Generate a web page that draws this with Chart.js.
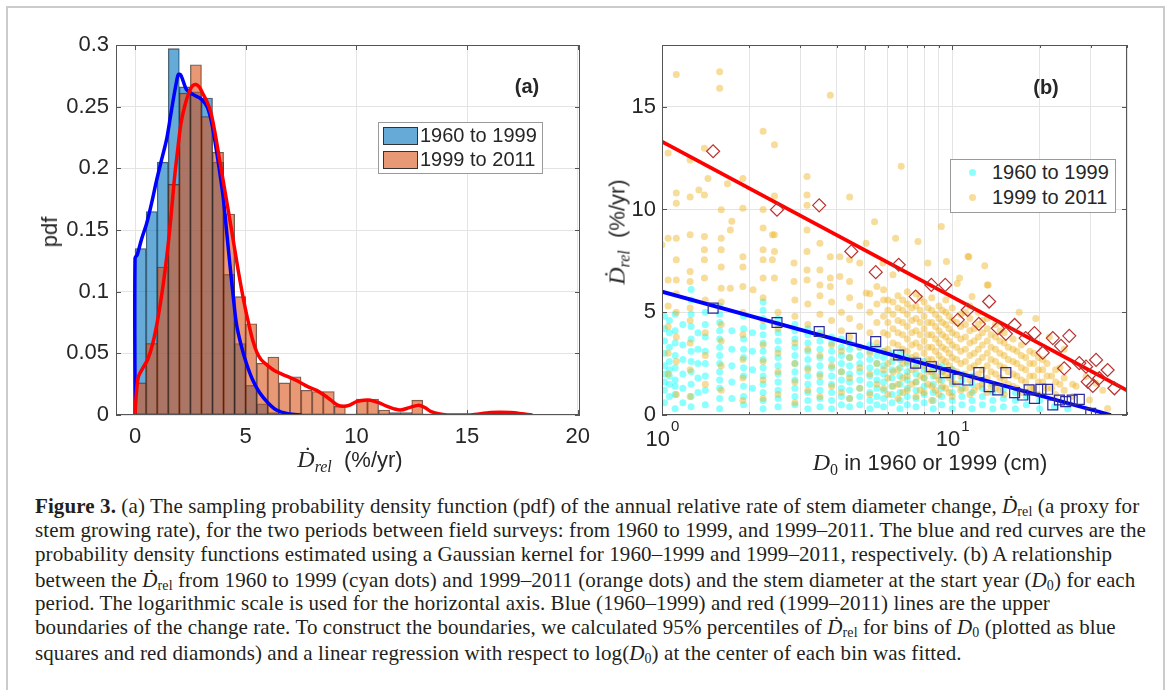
<!DOCTYPE html>
<html lang="en">
<head>
<meta charset="UTF-8">
<title>Figure 3</title>
<script src="https://cdn.jsdelivr.net/npm/chart.js"></script>
<style>
  body { margin: 0; background: #fff; width: 1170px; height: 690px; position: relative; overflow: hidden;
         font-family: "Liberation Sans", Arial, sans-serif; color: #262626; }
  .frame { position: absolute; left: 6px; top: 6px; width: 1155px; height: 720px; border: 2px solid #cbcbcb; }
  canvas { position: absolute; top: 0; }
  #chartA { left: 0; }
  #chartB { left: 600px; }
  .ax { position: absolute; white-space: nowrap; transform: translate(-50%, -50%); font-size: 22px; }
  .rot { transform: translate(-50%, -50%) rotate(-90deg); }
  .m { font-family: "Liberation Serif", "DejaVu Serif", serif; font-style: italic; font-size: 24px; }
  .m sub { font-size: 16px; vertical-align: -5px; line-height: 0; }
  .m sub.up { font-style: normal; }
  .tag { position: absolute; font-weight: bold; font-size: 20px; transform: translate(-50%, -50%); }
  .legend { position: absolute; background: #fff; border: 1px solid #9a9a9a; font-size: 20px; }
  .legend div { position: absolute; white-space: nowrap; }
  .patch { width: 33px; height: 16px; border: 1px solid #333; }
  .dot { width: 7px; height: 7px; border-radius: 50%; }
  .cap { position: absolute; left: 35px; white-space: nowrap; font-family: "Liberation Serif", "Times New Roman", serif;
         font-size: 21px; letter-spacing: 0.1px; line-height: 24px; color: #231f20; }
  .cap sub { font-size: 14px; vertical-align: -3px; line-height: 0; }
</style>
</head>
<body>
<div class="frame"></div>

<canvas id="chartA" width="600" height="480" style="width:600px;height:480px"></canvas>
<canvas id="chartB" width="570" height="480" style="width:570px;height:480px"></canvas>

<!-- panel labels and axis titles -->
<div class="tag" style="left:527px;top:86px">(a)</div>
<div class="tag" style="left:1046px;top:87px">(b)</div>
<div class="ax rot" style="left:50px;top:232px">pdf</div>
<div class="ax" style="left:350px;top:459px"><span class="m">Ḋ<sub>rel</sub></span>&nbsp; (%/yr)</div>
<div class="ax rot" style="left:617px;top:232px"><span class="m">Ḋ<sub>rel</sub></span>&nbsp; (%/yr)</div>
<div class="ax" style="left:930px;top:462px"><span class="m">D<sub class="up">0</sub></span>&nbsp;in 1960 or 1999 (cm)</div>

<!-- legends -->
<div class="legend" style="left:378px;top:122px;width:163px;height:50px">
  <div class="patch" style="left:4px;top:4px;background:rgba(0,114,189,0.6)"></div>
  <div style="left:41px;top:1px">1960 to 1999</div>
  <div class="patch" style="left:4px;top:28px;background:rgba(217,83,25,0.6)"></div>
  <div style="left:41px;top:25px">1999 to 2011</div>
</div>
<div class="legend" style="left:950px;top:159px;width:164px;height:52px">
  <div class="dot" style="left:18px;top:9px;background:rgba(0,255,255,0.45)"></div>
  <div style="left:41px;top:1px">1960 to 1999</div>
  <div class="dot" style="left:18px;top:34px;background:rgba(237,177,32,0.45)"></div>
  <div style="left:41px;top:26px">1999 to 2011</div>
</div>

<!-- caption -->
<div class="cap" style="top:494px"><b>Figure 3.</b> (a) The sampling probability density function (pdf) of the annual relative rate of stem diameter change, <i>Ḋ</i><sub>rel</sub> (a proxy for</div>
<div class="cap" style="top:518px">stem growing rate), for the two periods between field surveys: from 1960 to 1999, and 1999–2011. The blue and red curves are the</div>
<div class="cap" style="top:542px">probability density functions estimated using a Gaussian kernel for 1960–1999 and 1999–2011, respectively. (b) A relationship</div>
<div class="cap" style="top:568px">between the <i>Ḋ</i><sub>rel</sub> from 1960 to 1999 (cyan dots) and 1999–2011 (orange dots) and the stem diameter at the start year (<i>D</i><sub>0</sub>) for each</div>
<div class="cap" style="top:591px">period. The logarithmic scale is used for the horizontal axis. Blue (1960–1999) and red (1999–2011) lines are the upper</div>
<div class="cap" style="top:615px">boundaries of the change rate. To construct the boundaries, we calculated 95% percentiles of <i>Ḋ</i><sub>rel</sub> for bins of <i>D</i><sub>0</sub> (plotted as blue</div>
<div class="cap" style="top:641px">squares and red diamonds) and a linear regression with respect to log(<i>D</i><sub>0</sub>) at the center of each bin was fitted.</div>

<script>
  // ---- panel (a): histogram data, bins of 0.5 starting at 0 ----
  const binWidth = 0.5;
  const pdf1960 = [0.135, 0.165, 0.205, 0.297, 0.266, 0.262, 0.257, 0.205, 0.114, 0.058, 0.024, 0.009, 0.002, 0.001];
  const pdf1999 = [0.026, 0.058, 0.12, 0.187, 0.261, 0.284, 0.242, 0.213, 0.163, 0.096, 0.074, 0.042, 0.047, 0.026,
                   0.031, 0.020, 0.019, 0.019, 0.007, 0.001, 0.013, 0.013, 0.004, 0.002, 0.002, 0.012, 0.001];

  // kernel density curves [x, pdf]
  const kde1960 = [[0, 0], [0, 0.127], [0.1, 0.13], [0.3, 0.143], [0.52, 0.155], [0.75, 0.172], [0.97, 0.19],
    [1.2, 0.207], [1.42, 0.223], [1.6, 0.242], [1.72, 0.255], [1.85, 0.268], [1.95, 0.276], [2.05, 0.276],
    [2.15, 0.272], [2.32, 0.264], [2.6, 0.26], [2.93, 0.257], [3.15, 0.253], [3.3, 0.248], [3.45, 0.238],
    [3.6, 0.223], [3.8, 0.2], [3.98, 0.177], [4.13, 0.15], [4.28, 0.123], [4.43, 0.097], [4.58, 0.074],
    [4.8, 0.056], [5.03, 0.042], [5.3, 0.029], [5.63, 0.018], [6.0, 0.01], [6.39, 0.004], [6.9, 0.001], [7.52, 0]];
  const kde1999 = [[0, 0], [0.05, 0.015], [0.15, 0.031], [0.35, 0.038], [0.57, 0.045], [0.8, 0.058], [1.02, 0.077],
    [1.25, 0.103], [1.47, 0.134], [1.62, 0.16], [1.77, 0.19], [1.92, 0.214], [2.07, 0.236], [2.25, 0.251],
    [2.45, 0.262], [2.6, 0.267], [2.75, 0.268], [2.9, 0.266], [3.05, 0.261], [3.25, 0.254], [3.43, 0.245],
    [3.6, 0.23], [3.8, 0.209], [4.0, 0.188], [4.18, 0.169], [4.37, 0.149], [4.56, 0.128], [4.75, 0.108],
    [4.94, 0.09], [5.12, 0.075], [5.31, 0.061], [5.5, 0.051], [5.69, 0.045], [6.0, 0.04], [6.29, 0.036],
    [6.65, 0.033], [7.04, 0.03], [7.4, 0.027], [7.8, 0.023], [8.2, 0.02], [8.55, 0.016], [8.85, 0.012],
    [9.15, 0.008], [9.43, 0.007], [9.7, 0.008], [10.03, 0.011], [10.35, 0.012], [10.63, 0.012], [11.0, 0.01],
    [11.39, 0.007], [11.7, 0.005], [11.99, 0.004], [12.4, 0.006], [12.82, 0.008], [13.1, 0.006], [13.35, 0.003],
    [13.7, 0.001], [14.1, 0], [15.16, 0], [16.06, 0.002], [16.97, 0.002], [17.5, 0.001], [17.95, 0]];

  const xTicksA = [0, 5, 10, 15, 20];
  const yTicksA = [0, 0.05, 0.1, 0.15, 0.2, 0.25, 0.3];
  const yLabelsA = ['0', '0.05', '0.1', '0.15', '0.2', '0.25', '0.3'];

  // ---- panel (b): scatter data ----
  // columns of points: [D0, [rates...]]
  const cyanCols = [
    [1.02, [0.6, 1.2, 1.6, 2.0, 2.4, 3.0, 3.6, 4.2, 4.8]],
    [1.06, [0.9, 1.5, 1.9, 2.2, 2.6, 3.3, 4.0, 4.6]],
    [1.11, [0.3, 1.0, 1.4, 1.7, 2.3, 2.9, 3.5, 4.1, 4.9]],
    [1.18, [0.6, 1.3, 2.0, 2.7, 3.4, 4.4]],
    [1.26, [0.4, 0.9, 1.5, 2.1, 2.6, 3.1, 3.7, 4.3, 4.9, 5.6, 6.1]],
    [1.33, [1.1, 1.8, 2.5, 3.2, 4.0]],
    [1.41, [0.5, 1.2, 1.9, 2.5, 3.1, 3.8, 4.4, 5.0]],
    [1.58, [0.3, 0.8, 1.3, 1.7, 2.1, 2.5, 2.9, 3.3, 3.7, 4.1, 4.5, 4.9, 5.3]],
    [1.74, [0.8, 1.6, 2.4, 3.2, 4.1]],
    [1.91, [0.5, 0.9, 1.4, 1.9, 2.3, 2.8, 3.2, 3.7, 4.2, 4.8]],
    [2.05, [1.3, 2.2, 3.1, 4.0]],
    [2.23, [0.3, 0.7, 1.1, 1.5, 1.9, 2.3, 2.7, 3.1, 3.5, 3.9, 4.3, 4.7, 5.1, 5.5]],
    [2.51, [0.4, 0.8, 1.2, 1.6, 2.0, 2.4, 2.8, 3.2, 3.6, 4.0, 4.4, 4.7]],
    [2.87, [0.5, 0.9, 1.3, 1.7, 2.1, 2.5, 2.9, 3.3, 3.7, 4.1, 4.4]],
    [3.18, [0.3, 0.7, 1.1, 1.5, 1.9, 2.3, 2.7, 3.1, 3.5, 3.9, 4.2]],
    [3.5, [0.4, 0.8, 1.2, 1.6, 2.0, 2.4, 2.8, 3.2, 3.6, 4.0]],
    [3.84, [0.3, 0.7, 1.1, 1.5, 1.9, 2.3, 2.7, 3.1, 3.5, 3.8]],
    [4.15, [0.5, 0.9, 1.3, 1.7, 2.1, 2.5, 2.9, 3.3, 3.7]],
    [4.43, [0.4, 0.8, 1.2, 1.6, 2.0, 2.4, 2.8, 3.2, 3.5]],
    [4.8, [0.5, 0.9, 1.3, 1.7, 2.1, 2.5, 2.9, 3.3]],
    [5.2, [0.3, 0.7, 1.1, 1.5, 1.9, 2.3, 2.7, 3.1, 3.4]],
    [5.5, [0.5, 0.9, 1.3, 1.7, 2.1, 2.5, 2.9, 3.3]],
    [5.8, [0.4, 0.8, 1.2, 1.6, 2.0, 2.4, 2.8, 3.1]],
    [6.2, [0.6, 1.0, 1.4, 1.8, 2.2, 2.6, 3.0]],
    [6.6, [0.3, 0.7, 1.1, 1.5, 1.9, 2.3, 2.7, 3.0]],
    [7.0, [0.5, 0.9, 1.3, 1.7, 2.1, 2.5, 2.8]],
    [7.5, [0.4, 0.8, 1.2, 1.6, 2.0, 2.4, 2.7]],
    [8.0, [0.6, 1.0, 1.4, 1.8, 2.2, 2.6]],
    [8.6, [0.3, 0.7, 1.1, 1.5, 1.9, 2.3]],
    [9.2, [0.5, 0.9, 1.3, 1.7, 2.1, 2.4]],
    [10.0, [0.3, 0.7, 1.1, 1.5, 1.9, 2.2]],
    [10.8, [0.5, 0.9, 1.3, 1.7, 2.0]],
    [11.7, [0.3, 0.7, 1.1, 1.5, 1.9]],
    [12.7, [0.5, 0.9, 1.3, 1.7]],
    [13.8, [0.3, 0.7, 1.1, 1.5]],
    [15.0, [0.4, 0.8, 1.2]],
    [16.5, [0.3, 0.7, 1.1]],
    [18.0, [0.5, 0.9]],
    [20.0, [0.3, 0.7]],
    [22.5, [0.4]],
    [25.0, [0.3]]
  ];
  const orangeCols = [
    [1.05, [2.0, 3.0, 4.3, 5.3]], [1.12, [1.0, 2.6, 3.8, 5.0, 5.9]], [1.25, [0.9, 2.2, 3.5, 4.6, 5.2]],
    [1.41, [1.5, 2.9, 4.0, 5.6]], [1.6, [1.2, 2.4, 3.6, 4.4, 5.5]], [1.9, [0.7, 1.8, 2.7, 3.9, 5.0]],
    [2.23, [0.8, 1.7, 2.6, 3.4, 4.6, 5.7]], [2.51, [1.0, 2.1, 3.0, 4.2, 5.0]], [2.87, [0.6, 1.6, 2.5, 3.5, 4.8, 5.6]],
    [3.18, [1.2, 2.2, 3.2, 4.4, 5.4]], [3.5, [0.9, 1.9, 2.9, 3.9, 4.9, 5.8]], [3.84, [1.4, 2.4, 3.4, 4.6, 5.5]],
    [4.15, [1.1, 2.1, 3.1, 4.1, 5.0]], [4.43, [0.8, 1.8, 2.8, 3.8, 4.7, 5.7]], [4.8, [1.3, 2.3, 3.3, 4.3, 5.3]],
    [5.2, [1.0, 2.0, 3.0, 4.0, 5.0, 5.9]], [5.5, [1.5, 2.5, 3.5, 4.5, 5.4]], [5.8, [1.3, 2.2, 3.1, 4.0, 4.8, 5.6]],
    [6.0, [1.0, 1.8, 2.5, 3.2, 3.9, 4.5, 5.1, 5.6]], [6.25, [1.4, 2.1, 2.8, 3.5, 4.2, 4.9, 5.5]],
    [6.5, [0.8, 1.5, 2.2, 2.8, 3.4, 4.0, 4.6, 5.2, 5.8]], [6.75, [1.1, 1.8, 2.5, 3.2, 3.9, 4.5, 5.1, 5.6]],
    [7.0, [1.2, 1.9, 2.6, 3.1, 3.7, 4.3, 4.9, 5.4, 6.0]], [7.25, [1.5, 2.2, 2.8, 3.4, 4.0, 4.6, 5.2]],
    [7.5, [0.9, 1.6, 2.3, 2.9, 3.5, 4.1, 4.7, 5.3, 5.9]], [7.75, [1.2, 1.9, 2.6, 3.3, 3.9, 4.5, 5.1, 5.7]],
    [8.0, [1.1, 1.8, 2.4, 3.0, 3.6, 4.2, 4.8, 5.5]], [8.25, [1.5, 2.1, 2.7, 3.3, 3.9, 4.5, 5.2]],
    [8.5, [0.7, 1.4, 2.1, 2.7, 3.3, 3.9, 4.5, 5.1, 5.7]], [8.75, [1.2, 1.9, 2.5, 3.1, 3.7, 4.3, 4.9]],
    [9.0, [1.0, 1.7, 2.3, 2.9, 3.5, 4.1, 4.7, 5.3]], [9.25, [1.4, 2.1, 2.7, 3.3, 3.9, 4.5, 5.1]],
    [9.5, [1.3, 2.0, 2.6, 3.2, 3.8, 4.4, 5.0, 5.6]], [9.75, [1.1, 1.8, 2.4, 3.0, 3.6, 4.2, 4.8]],
    [10.0, [0.9, 1.6, 2.2, 2.8, 3.4, 4.0, 4.6, 5.2]], [10.35, [1.5, 2.1, 2.7, 3.3, 3.9, 4.5]],
    [10.7, [1.2, 1.9, 2.5, 3.1, 3.7, 4.3, 4.9]], [11.1, [1.3, 2.0, 2.6, 3.2, 3.8, 4.4, 5.0]],
    [11.5, [1.0, 1.7, 2.3, 2.9, 3.5, 4.1, 4.7, 5.3]], [11.9, [1.2, 1.8, 2.4, 3.0, 3.6, 4.2]],
    [12.3, [1.4, 2.0, 2.6, 3.2, 3.8, 4.4, 5.0]], [12.7, [1.5, 2.2, 2.8, 3.4, 4.0, 4.6]],
    [13.2, [1.1, 1.8, 2.4, 3.0, 3.6, 4.2, 4.7]], [13.6, [1.4, 2.1, 2.7, 3.3, 3.9]],
    [14.1, [1.3, 2.0, 2.6, 3.2, 3.8, 4.4]], [14.6, [1.2, 1.8, 2.4, 3.0, 3.6, 4.1]],
    [15.1, [1.0, 1.7, 2.3, 2.9, 3.5, 4.0]], [15.6, [1.5, 2.1, 2.7, 3.3]], [16.2, [1.4, 2.0, 2.6, 3.2, 3.7]],
    [16.7, [1.3, 1.9, 2.5, 3.1]], [17.3, [1.1, 1.7, 2.3, 2.9, 3.4]], [17.9, [1.6, 2.2, 2.8]],
    [18.5, [1.3, 1.9, 2.5, 3.1]], [19.1, [1.3, 1.9, 2.5, 3.0]], [19.8, [1.0, 1.6, 2.2, 2.8]],
    [20.5, [1.6, 2.2, 2.7]], [21.2, [1.3, 1.9, 2.5]], [22.0, [1.3, 1.9]], [22.7, [1.0, 1.6, 2.2]],
    [23.5, [1.5, 2.3]], [24.3, [1.2, 1.8]], [26.0, [0.9, 1.5]]
  ];
  // scattered single orange points [D0, rate]
  const orangeLoose = [[1.12, 16.56], [1.58, 16.7], [1.58, 15.9], [3.8, 15.55], [2.23, 13.8], [2.44, 13.15],
    [1.05, 12.74], [1.4, 12.98], [1.25, 12.4], [1.44, 11.5], [1.9, 11.5], [3.16, 11.6], [1.68, 11.25],
    [1.12, 10.8], [1.12, 10.3], [1.25, 10.6], [1.4, 10.7], [1.34, 10.95], [1.9, 10.06], [1.6, 9.98],
    [2.23, 10.0], [2.44, 10.66], [3.16, 10.7], [3.16, 10.2], [4.43, 10.6], [5.4, 9.4], [5.05, 8.36],
    [1.0, 8.28], [1.05, 8.6], [1.12, 8.6], [1.4, 8.68], [1.25, 8.77], [1.74, 9.42], [1.72, 9.0], [1.6, 8.6],
    [2.23, 9.1], [2.4, 8.77], [2.44, 8.77], [2.85, 7.4], [3.16, 9.0], [3.5, 8.36], [3.8, 7.7], [4.1, 7.7],
    [4.43, 7.55], [4.8, 7.4], [1.12, 7.55], [1.25, 6.98], [1.4, 8.04], [1.4, 7.55], [1.6, 8.04], [1.6, 7.2],
    [1.9, 7.7], [1.9, 7.2], [2.23, 8.04], [2.23, 7.55], [2.4, 7.55], [2.44, 7.95], [2.23, 6.66], [2.44, 6.66],
    [3.16, 7.95], [3.16, 7.06], [3.5, 7.06], [3.8, 6.66], [4.1, 6.74], [4.43, 6.5], [1.05, 6.57], [1.12, 6.57],
    [1.25, 6.5], [1.4, 6.66], [1.6, 6.17], [1.72, 6.17], [1.9, 6.25], [2.06, 6.09], [2.85, 6.5], [3.16, 6.57],
    [3.5, 6.33], [3.8, 6.25], [5.05, 5.93], [5.5, 6.25], [5.8, 6.09],
    [6.67, 12.1], [9.17, 9.17], [7.62, 8.44], [6.38, 8.6], [11.33, 7.71], [12.94, 7.26], [9.55, 7.47],
    [8.24, 7.39], [6.25, 6.82], [10.6, 6.66], [13.3, 6.33], [5.77, 7.39], [11.4, 7.7], [10.4, 6.4],
    [13.2, 6.33], [17, 5.0], [11.7, 5.76], [19.4, 4.7], [21.6, 3.8], [24.3, 3.2], [28.9, 1.87], [33, 1.2],
    [34.3, 0.32], [26.7, 1.4], [29.7, 0.73], [31.3, 1.54]];

  // 95% percentiles per D0 bin
  const squares1960 = [[1.5, 5.2], [2.49, 4.5], [3.48, 4.06], [4.49, 3.73], [5.45, 3.57], [6.54, 2.92], [7.48, 2.52],
    [8.47, 2.35], [9.46, 2.06], [10.45, 1.74], [11.3, 1.70], [12.35, 2.06], [13.4, 1.38], [14.35, 1.22],
    [15.3, 2.06], [16.4, 1.09], [17.5, 0.97], [18.4, 1.22], [19.2, 0.81], [20.2, 1.25], [21.3, 1.25],
    [22.2, 0.49], [23.4, 0.73], [24.6, 0.65], [25.9, 0.73], [27.4, 0.76], [30.0, 0.08]];
  const diamonds1999 = [[1.5, 12.83], [2.49, 9.99], [3.48, 10.2], [4.49, 7.96], [5.45, 6.95], [6.54, 7.31],
    [7.48, 5.76], [8.47, 6.33], [9.46, 6.33], [10.45, 4.63], [11.3, 5.11], [12.35, 4.43], [13.4, 5.52],
    [14.35, 4.22], [15.3, 3.95], [16.4, 4.38], [17.9, 3.74], [19.2, 3.98], [20.5, 3.03], [22.2, 3.74],
    [23.7, 3.36], [25.3, 3.85], [24.3, 2.27], [27.4, 2.52], [28.9, 2.35], [31.3, 2.68], [29.3, 1.62],
    [30.5, 1.41], [32.1, 1.79], [34.3, 2.19], [36.2, 1.30]];
  // fitted upper boundaries (end points)
  const line1960 = [[1, 6.0], [35.2, 0]];
  const line1999 = [[1, 13.3], [40, 1.2]];

  const xTicksB = [1, 2, 3, 4, 5, 6, 7, 8, 9, 10, 20, 30, 40];
  const xPowerTicks = [1, 10];
  const xPowers = ['0', '1'];
  const yTicksB = [0, 5, 10, 15];

  Chart.defaults.font.family = '"Liberation Sans", Arial, sans-serif';
  Chart.defaults.color = '#262626';

  const pts = arr => arr.map(p => ({ x: p[0], y: p[1] }));
  const flatCols = cols => cols.flatMap(c => c[1].map(y => ({ x: c[0], y })));

  // box around the axes with inward ticks, like MATLAB
  function framePlugin(isMajor) {
    return {
      id: 'frame',
      afterDatasetsDraw(chart) {
        const { ctx, chartArea: a, scales } = chart;
        ctx.save();
        ctx.strokeStyle = '#555';
        ctx.lineWidth = 1;
        ctx.strokeRect(a.left + 0.5, a.top + 0.5, a.right - a.left - 1, a.bottom - a.top - 1);
        ctx.beginPath();
        scales.x.ticks.forEach(t => {
          const px = Math.round(scales.x.getPixelForValue(t.value)) + 0.5;
          const len = isMajor(t.value) ? 5 : 3;
          ctx.moveTo(px, a.bottom); ctx.lineTo(px, a.bottom - len);
          ctx.moveTo(px, a.top); ctx.lineTo(px, a.top + len);
        });
        scales.y.ticks.forEach(t => {
          const py = Math.round(scales.y.getPixelForValue(t.value)) + 0.5;
          ctx.moveTo(a.left, py); ctx.lineTo(a.left + 5, py);
          ctx.moveTo(a.right, py); ctx.lineTo(a.right - 5, py);
        });
        ctx.stroke();
        ctx.restore();
      }
    };
  }

  const gridColor = '#e4e4e4';

  // Panel (a)
  new Chart(document.getElementById('chartA'), {
    type: 'bar',
    data: {
      datasets: [
        { type: 'line', data: pts(kde1999), borderColor: '#ff0000', borderWidth: 3.5, pointRadius: 0,
          tension: 0.3, order: 0 },
        { type: 'line', data: pts(kde1960), borderColor: '#0000ff', borderWidth: 3.5, pointRadius: 0,
          tension: 0.3, order: 1 },
        { label: '1999 to 2011', data: pdf1999.map((v, i) => ({ x: (i + 0.5) * binWidth, y: v })),
          backgroundColor: 'rgba(217,83,25,0.6)', borderColor: 'rgba(30,30,30,0.7)', borderWidth: 0.7,
          borderSkipped: false, order: 2 },
        { label: '1960 to 1999', data: pdf1960.map((v, i) => ({ x: (i + 0.5) * binWidth, y: v })),
          backgroundColor: 'rgba(0,114,189,0.6)', borderColor: 'rgba(30,30,30,0.7)', borderWidth: 0.7,
          borderSkipped: false, order: 3 }
      ]
    },
    options: {
      responsive: false,
      animation: false,
      events: [],
      layout: { padding: { left: 0, right: 20, top: 45, bottom: 0 } },
      datasets: { bar: { grouped: false, barPercentage: 1, categoryPercentage: 1 } },
      plugins: { legend: { display: false }, tooltip: { enabled: false } },
      scales: {
        x: {
          type: 'linear', min: -0.86, max: 20.1, offset: false,
          grid: { color: gridColor, drawTicks: false, offset: false },
          border: { display: false },
          ticks: { font: { size: 22 }, padding: 9, maxRotation: 0, autoSkip: false, callback: v => String(v) },
          afterBuildTicks: s => { s.ticks = xTicksA.map(v => ({ value: v })); },
          afterFit: s => { s.height = 65; }
        },
        y: {
          min: 0, max: 0.3,
          grid: { color: gridColor, drawTicks: false },
          border: { display: false },
          ticks: { font: { size: 22 }, padding: 7, callback: v => yLabelsA[yTicksA.indexOf(v)] },
          afterBuildTicks: s => { s.ticks = yTicksA.map(v => ({ value: v })); },
          afterFit: s => { s.width = 116; }
        }
      }
    },
    plugins: [framePlugin(() => true)]
  });

  // "10" with a raised exponent for the log axis
  const powerLabels = {
    id: 'powerLabels',
    afterDraw(chart) {
      const { ctx, scales: { x } } = chart;
      ctx.save();
      ctx.fillStyle = '#262626';
      ctx.textBaseline = 'middle';
      ctx.textAlign = 'left';
      xPowerTicks.forEach((v, i) => {
        const px = x.getPixelForValue(v);
        ctx.font = '22px "Liberation Sans", Arial, sans-serif';
        const wb = ctx.measureText('10').width;
        ctx.font = '15px "Liberation Sans", Arial, sans-serif';
        const we = ctx.measureText(xPowers[i]).width;
        const left = px - (wb + we) / 2;
        ctx.font = '22px "Liberation Sans", Arial, sans-serif';
        ctx.fillText('10', left, x.top + 25);
        ctx.font = '15px "Liberation Sans", Arial, sans-serif';
        ctx.fillText(xPowers[i], left + wb + 1, x.top + 12);
      });
      ctx.restore();
    }
  };

  // Panel (b)
  new Chart(document.getElementById('chartB'), {
    type: 'scatter',
    data: {
      datasets: [
        { data: pts(squares1960), pointStyle: 'rect', pointRadius: 7, pointBorderColor: '#2a2a9c',
          pointBackgroundColor: 'rgba(0,0,0,0)', pointBorderWidth: 1.2, order: 0 },
        { data: pts(diamonds1999), pointStyle: 'rectRot', pointRadius: 6.5, pointBorderColor: '#b83230',
          pointBackgroundColor: 'rgba(0,0,0,0)', pointBorderWidth: 1.2, order: 0 },
        { data: pts(line1999), showLine: true, borderColor: '#ff0000', borderWidth: 3.8, pointRadius: 0, order: 1 },
        { data: pts(line1960), showLine: true, borderColor: '#0000ff', borderWidth: 3.8, pointRadius: 0, order: 1 },
        { label: '1999 to 2011', data: flatCols(orangeCols).concat(pts(orangeLoose)), pointRadius: 3.5,
          pointBorderWidth: 0, pointBackgroundColor: 'rgba(237,177,32,0.45)', order: 2 },
        { label: '1960 to 1999', data: flatCols(cyanCols), pointRadius: 3.5,
          pointBorderWidth: 0, pointBackgroundColor: 'rgba(0,255,255,0.45)', order: 3 }
      ]
    },
    options: {
      responsive: false,
      animation: false,
      events: [],
      layout: { padding: { left: 0, right: 43, top: 45, bottom: 0 } },
      plugins: { legend: { display: false }, tooltip: { enabled: false } },
      scales: {
        x: {
          type: 'logarithmic', min: 1, max: 40,
          grid: { color: gridColor, drawTicks: false },
          border: { display: false },
          ticks: { display: false },
          afterBuildTicks: s => { s.ticks = xTicksB.map(v => ({ value: v })); },
          afterFit: s => { s.height = 65; }
        },
        y: {
          min: 0, max: 18,
          grid: { color: gridColor, drawTicks: false },
          border: { display: false },
          ticks: { font: { size: 22 }, padding: 6, callback: v => String(v) },
          afterBuildTicks: s => { s.ticks = yTicksB.map(v => ({ value: v })); },
          afterFit: s => { s.width = 62; }
        }
      }
    },
    plugins: [framePlugin(v => xPowerTicks.includes(v) || yTicksB.includes(v)), powerLabels]
  });
</script>
</body>
</html>
